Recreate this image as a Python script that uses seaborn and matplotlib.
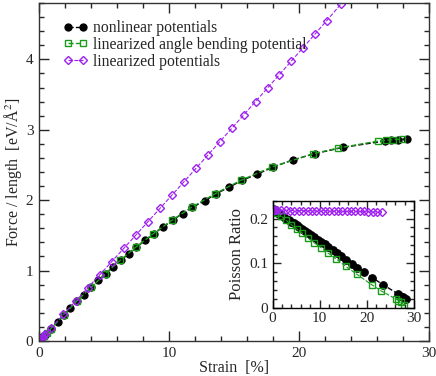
import matplotlib
matplotlib.use('Agg')
import matplotlib.pyplot as plt
import seaborn as sns
from matplotlib.ticker import MultipleLocator

sns.set_style('ticks')
plt.rcParams['font.family'] = ['Liberation Serif', 'DejaVu Serif']
plt.rcParams['mathtext.fontset'] = 'stix'

# --- main panel: force vs strain ---
nl_strain = [0, 0.1, 0.25, 0.45, 0.92, 1.44, 1.9, 2.41, 2.92, 3.49, 4.02, 4.56, 5.12, 5.69,
             6.28, 6.92, 7.5, 8.18, 8.84, 9.56, 10.27, 11.05, 11.8, 12.77, 13.6, 14.6, 15.6,
             16.8, 18.0, 19.5, 21.2, 23.4, 26.6, 27.1, 27.6, 28.3]
nl_force = [0, 0.02, 0.05, 0.09, 0.175, 0.275, 0.37, 0.47, 0.565, 0.66, 0.76, 0.86, 0.955, 1.05,
            1.145, 1.24, 1.335, 1.43, 1.525, 1.62, 1.715, 1.81, 1.90, 1.99, 2.09, 2.18, 2.28,
            2.37, 2.47, 2.57, 2.66, 2.75, 2.84, 2.85, 2.86, 2.87]

ab_strain = [0, 0.15, 0.35, 0.6, 0.92, 1.9, 2.9, 4.0, 5.1, 6.25, 7.46, 8.8, 10.23, 11.74,
             13.54, 15.5, 17.9, 21.1, 23.0, 26.1, 26.7, 27.25, 27.9]
ab_force = [0, 0.03, 0.07, 0.115, 0.175, 0.37, 0.565, 0.76, 0.955, 1.145, 1.335, 1.525, 1.715,
            1.90, 2.09, 2.28, 2.47, 2.66, 2.74, 2.84, 2.85, 2.86, 2.87]

lin_strain = [0, 0.1, 0.2, 0.3, 0.4, 0.5, 0.95, 1.88, 2.81, 3.74, 4.66, 5.59, 6.52, 7.45, 8.38,
              9.3, 10.22, 11.15, 12.07, 12.99, 13.91, 14.83, 15.75, 16.66, 17.58, 18.49, 19.41,
              20.32, 21.23, 22.14, 23.2]
lin_force = [0, 0.02, 0.04, 0.06, 0.08, 0.10, 0.19, 0.377, 0.564, 0.752, 0.937, 1.126, 1.315,
             1.504, 1.694, 1.882, 2.070, 2.261, 2.450, 2.640, 2.830, 3.021, 3.212, 3.401, 3.593,
             3.783, 3.976, 4.167, 4.359, 4.551, 4.78]

# --- inset: Poisson ratio vs strain ---
nl_poisson = [0.222, 0.221, 0.220, 0.219, 0.215, 0.211, 0.208, 0.204, 0.200, 0.196, 0.192, 0.189,
              0.185, 0.180, 0.176, 0.172, 0.167, 0.162, 0.158, 0.152, 0.147, 0.142, 0.136, 0.129,
              0.123, 0.116, 0.108, 0.099, 0.090, 0.080, 0.067, 0.052, 0.031, 0.027, 0.024, 0.020]
ab_poisson = [0.222, 0.221, 0.219, 0.216, 0.213, 0.205, 0.196, 0.186, 0.177, 0.168, 0.157, 0.146,
              0.135, 0.123, 0.109, 0.093, 0.075, 0.051, 0.038, 0.020, 0.016, 0.012, 0.006]
lin_poisson = [0.221, 0.221, 0.220, 0.220, 0.220, 0.220, 0.219, 0.219, 0.219, 0.218, 0.218,
               0.218, 0.218, 0.218, 0.217, 0.217, 0.217, 0.217, 0.217, 0.217, 0.216, 0.216,
               0.216, 0.216, 0.216, 0.216, 0.216, 0.215, 0.215, 0.215, 0.215]

black = 'black'
green = '#1a9a1a'
violet = '#a020f0'

fig = plt.figure(figsize=(4.36, 3.76), dpi=100)
ax = fig.add_axes([0.0894, 0.0931, 0.8946, 0.8989])

sns.lineplot(x=nl_strain, y=nl_force, ax=ax, sort=False, color=black, linestyle='--', lw=1,
             marker='o', markersize=5.2, markerfacecolor=black, markeredgecolor=black,
             label='nonlinear potentials')
sns.lineplot(x=ab_strain, y=ab_force, ax=ax, sort=False, color=green, linestyle='--', lw=1,
             marker='s', markersize=4.5, markerfacecolor='none', markeredgecolor=green,
             markeredgewidth=1, label='linearized angle bending potential')
sns.lineplot(x=lin_strain, y=lin_force, ax=ax, sort=False, color=violet, linestyle='--', lw=0.8,
             marker='D', markersize=4, markerfacecolor='none', markeredgecolor=violet,
             markeredgewidth=1, label='linearized potentials')

ax.set_xlim(0, 30)
ax.set_ylim(0, 4.8)
ax.xaxis.set_major_locator(MultipleLocator(10))
ax.xaxis.set_minor_locator(MultipleLocator(2))
ax.yaxis.set_major_locator(MultipleLocator(1))
ax.yaxis.set_minor_locator(MultipleLocator(0.2))
ax.tick_params(which='both', direction='in', top=True, right=True, labelsize=11, pad=4)
ax.tick_params(which='major', length=7, width=1)
ax.tick_params(which='minor', length=3.5, width=1)
ax.set_xlabel('Strain  [%]', fontsize=11.5, labelpad=0)
ax.set_ylabel('Force / length  [eV/Å$^2$]', fontsize=11.5, labelpad=1)
for s in ax.spines.values():
    s.set_linewidth(1)
    s.set_color('#333333')

ax.legend(loc='upper left', bbox_to_anchor=(0.045, 0.968), frameon=False, fontsize=11.3,
          numpoints=2, handlelength=1.6, handletextpad=0.35, labelspacing=0.05, borderaxespad=0)

# inset
axi = fig.add_axes([0.625, 0.1816, 0.3245, 0.2846])
sns.lineplot(x=nl_strain, y=nl_poisson, ax=axi, sort=False, color=black, linestyle='--', lw=1,
             marker='o', markersize=5.5, markerfacecolor=black, markeredgecolor=black)
sns.lineplot(x=ab_strain, y=ab_poisson, ax=axi, sort=False, color=green, linestyle='--', lw=0.8,
             marker='s', markersize=4.5, markerfacecolor='none', markeredgecolor=green,
             markeredgewidth=1)
sns.lineplot(x=lin_strain, y=lin_poisson, ax=axi, sort=False, color=violet, linestyle='--',
             lw=0.8, marker='D', markersize=4, markerfacecolor='none', markeredgecolor=violet,
             markeredgewidth=1)
axi.set_xlim(0, 30)
axi.set_ylim(0, 0.24)
axi.xaxis.set_major_locator(MultipleLocator(10))
axi.xaxis.set_minor_locator(MultipleLocator(2))
axi.yaxis.set_major_locator(MultipleLocator(0.1))
axi.yaxis.set_minor_locator(MultipleLocator(0.02))
axi.set_yticks([0, 0.1, 0.2])
axi.set_yticklabels(['0', '0.1', '0.2'])
axi.tick_params(which='both', direction='in', top=True, right=True, labelsize=11, pad=3)
axi.tick_params(which='major', length=6, width=1)
axi.tick_params(which='minor', length=3, width=1)
axi.set_ylabel('Poisson Ratio', fontsize=12, labelpad=3)
for s in axi.spines.values():
    s.set_linewidth(1)
    s.set_color('black')

fig.savefig('out.png', dpi=100)
